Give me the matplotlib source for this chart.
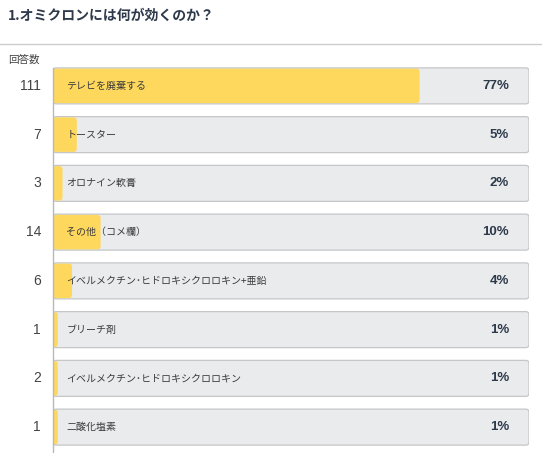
import matplotlib
matplotlib.use("Agg")
import matplotlib.pyplot as plt
from matplotlib.patches import FancyBboxPatch

plt.rcParams['font.family'] = ['Noto Sans CJK JP', 'DejaVu Sans']

title = "1.オミクロンには何が効くのか？"
categories = ["テレビを廃棄する", "トースター", "オロナイン軟膏", "その他（コメ欄）",
              "イベルメクチン･ヒドロキシクロロキン+亜鉛", "ブリーチ剤",
              "イベルメクチン･ヒドロキシクロロキン", "二酸化塩素"]
counts = [111, 7, 3, 14, 6, 1, 2, 1]
percents = [77, 5, 2, 10, 4, 1, 1, 1]

W, H = 542, 453
fig = plt.figure(figsize=(W / 100, H / 100), dpi=100)

# bars area in pixels
left_px, right_px = 53, 529
top_px, bot_px = 61.5, 451.5
ax = fig.add_axes([left_px / W, 1 - bot_px / H, (right_px - left_px) / W, (bot_px - top_px) / H])
n = len(categories)
ax.set_xlim(0, 100)
ax.set_ylim(n - 0.5, -0.5)
ax.axis('off')

bh = 36 / 48.75
asp = (1 / 48.75) / (100 / 476)
r = 0.7
for i in range(n):
    bg = FancyBboxPatch((0, i - bh / 2), 100, bh,
                        boxstyle=f"round,pad=0,rounding_size={r}",
                        mutation_aspect=asp, fc="#e9ebec", ec="#c4c6c8", lw=0.9)
    ax.add_patch(bg)
    fg = FancyBboxPatch((0, i - bh / 2 + 0.015), percents[i], bh - 0.03,
                        boxstyle=f"round,pad=0,rounding_size={min(r, percents[i] / 2)}",
                        mutation_aspect=asp, fc="#fed85d", ec="none")
    ax.add_patch(fg)
    ax.text(2.8, i, categories[i], ha='left', va='center', fontsize=7.2, color='#3a3a3a')
    ax.text(95.8, i, f"{percents[i]}%", ha='right', va='center', fontsize=9.5,
            fontweight='bold', color='#2e3a4b', family=['Liberation Sans', 'DejaVu Sans'])
    ax.text(-2.5, i, str(counts[i]), ha='right', va='center', fontsize=10, color='#444444',
            family=['Liberation Sans', 'DejaVu Sans'])

# left axis line
fig.add_artist(plt.Line2D([left_px / W, left_px / W], [0, 1 - 68 / H], color='#b8b8b8', lw=1))
# header rule
fig.add_artist(plt.Line2D([0, 1], [1 - 44 / H, 1 - 44 / H], color='#cccccc', lw=1))

fig.text(8 / W, 1 - 16 / H, title, ha='left', va='center', fontsize=10,
         fontweight='bold', color='#2e3a4b')
fig.text(8 / W, 1 - 60 / H, "回答数", ha='left', va='center', fontsize=7.6, color='#444444')

fig.savefig("out.png", dpi=100, facecolor='white')
